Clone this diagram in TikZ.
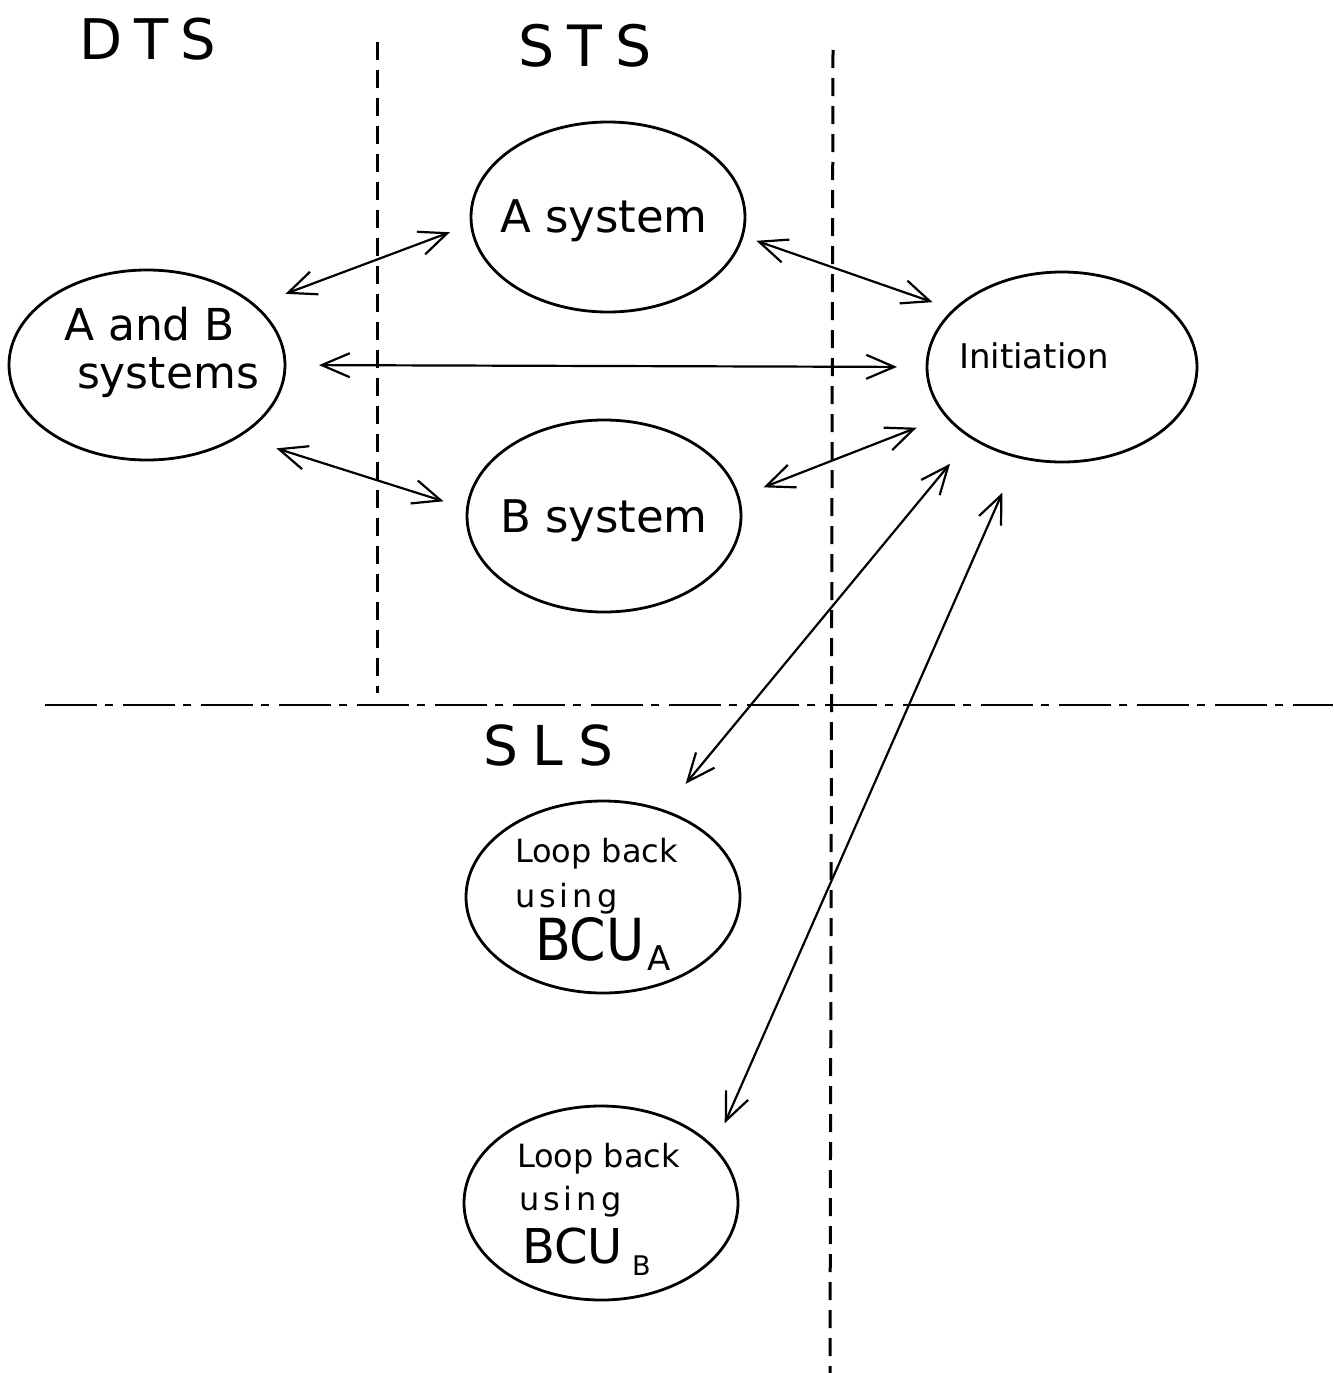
\documentclass[tikz,border=0pt]{standalone}
\usepackage{fontspec}
\usepackage{graphicx}
\usetikzlibrary{shapes.geometric,arrows.meta}
\newfontfamily\lett{DejaVu Sans}
\newcommand{\fs}[1]{\fontsize{#1}{#1}\selectfont}
\begin{document}
\begin{tikzpicture}[x=1pt,y=-1pt,
  bubble/.style={draw, ellipse, inner sep=0pt, outer sep=0pt, line width=2.8pt},
  txt/.style={inner sep=0pt, outer sep=0pt, anchor=base west, font=\lett},
  vdash/.style={line width=3pt, dash pattern=on 18pt off 10pt},
  hdash/.style={line width=2.8pt, dash pattern=on 52pt off 8pt on 8pt off 10pt},
  dbl/.style={{Straight Barb[length=28pt,width=24pt]}-{Straight Barb[length=28pt,width=24pt]}, line width=2.2pt}]
\useasboundingbox (0,0) rectangle (1333,1373);

% zone separators
\coordinate (vl1) at (377,42);
\coordinate (vl2) at (377,693);
\coordinate (vr1) at (833,50);
\coordinate (vr2) at (830,1373);
\coordinate (hl1) at (45,705);
\coordinate (hl2) at (1333,705);
\draw[vdash] (vl1) -- (vl2);
\draw[vdash] (vr1) -- (vr2);
\draw[hdash] (hl1) -- (hl2);

% zone titles
\node[txt, font=\lett\fs{56}] (dts) at (79,59) {D\kern12pt T\kern12pt S};
\node[txt, font=\lett\fs{57}] (sts) at (518,66) {S\kern13pt T\kern13pt S};
\node[txt, font=\lett\fs{55}] (sls) at (483,765) {S\kern15pt L\kern15pt S};

% states
\node[bubble, minimum width=276pt, minimum height=190pt] (ab)   at (147,365) {};
\node[bubble, minimum width=274pt, minimum height=190pt] (asys) at (608,217) {};
\node[bubble, minimum width=274pt, minimum height=192pt] (bsys) at (604,516) {};
\node[bubble, minimum width=270pt, minimum height=190pt] (init) at (1062,367) {};
\node[bubble, minimum width=274pt, minimum height=192pt] (lpa)  at (603,897) {};
\node[bubble, minimum width=274pt, minimum height=194pt] (lpb)  at (601,1203) {};

% state labels
\node[txt, font=\lett\fs{44}] (abt1) at (64,340) {A and B};
\node[txt, font=\lett\fs{44}] (abt2) at (77,388) {systems};
\node[txt, font=\lett\fs{45}] (ast) at (500,232) {A system};
\node[txt, font=\lett\fs{45}] (bst) at (500,532) {B system};
\node[txt, font=\lett\fs{34}] (ini) at (959,368) {Initiation};

\node[txt, font=\lett\fs{32}] (la1) at (515,862) {Loop back};
\node[txt, font=\lett\fs{32}] (la2) at (515,907) {u\kern4pt s\kern4pt i\kern4pt n\kern4pt g};
\node[txt, font=\lett\fs{58}] (la3) at (535,960) {\scalebox{0.9}[1]{BCU}};
\node[txt, font=\lett\fs{34}] (la4) at (647,970) {A};

\node[txt, font=\lett\fs{32}] (lb1) at (517,1167) {Loop back};
\node[txt, font=\lett\fs{32}] (lb2) at (519,1210) {u\kern4pt s\kern4pt i\kern4pt n\kern4pt g};
\node[txt, font=\lett\fs{48}] (lb3) at (522,1263) {BCU};
\node[txt, font=\lett\fs{27}] (lb4) at (632,1275) {B};

% transitions
\draw[dbl, shorten <=33pt, shorten >=23pt] (ab.29) -- (asys.183);
\draw[dbl, shorten <=34pt, shorten >=30pt] (ab.0) -- (init.180);
\draw[dbl, shorten <=40pt, shorten >=25pt] (ab.322) -- (bsys.177);
\draw[dbl, shorten <=15pt, shorten >=23pt] (asys.352) -- (init.152);
\draw[dbl, shorten <=27pt, shorten >=32pt] (bsys.8) -- (init.203);
\draw[dbl, shorten <=34pt, shorten >=35pt] (init.218) -- (lpa.55);
\draw[dbl, shorten <=39pt, shorten >=27pt] (init.244) -- (lpb.26);
\end{tikzpicture}
\end{document}
